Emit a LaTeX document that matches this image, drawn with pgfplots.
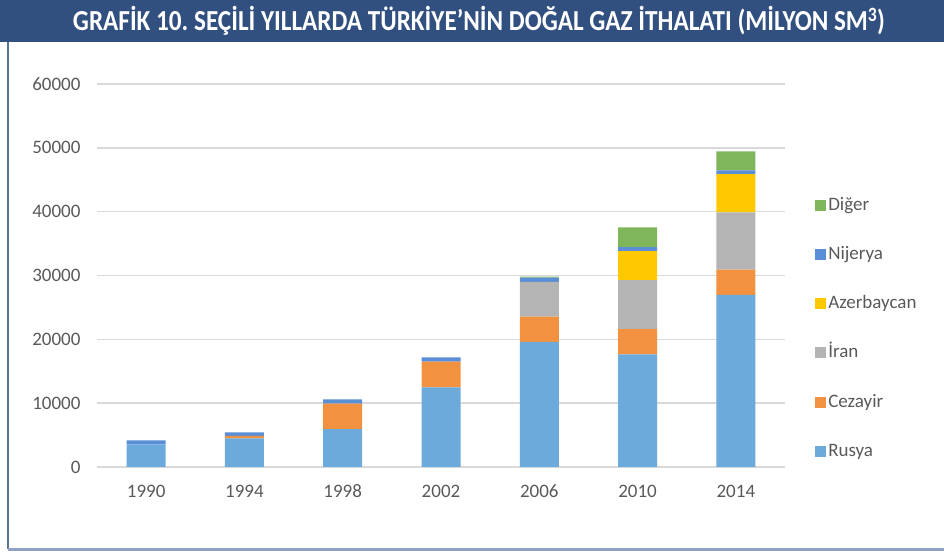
\documentclass[border=0pt]{standalone}
\usepackage{fontspec}
\setmainfont{Carlito}
\usepackage{graphicx}
\usepackage{pgfplots}
\pgfplotsset{compat=1.18}
\definecolor{titlebar}{HTML}{31507F}
\definecolor{frameline}{HTML}{8FA2C2}
\definecolor{rusya}{HTML}{6BAADB}
\definecolor{cezayir}{HTML}{F29240}
\definecolor{iran}{HTML}{B4B4B4}
\definecolor{azer}{HTML}{FFC800}
\definecolor{nijerya}{HTML}{5A8ED6}
\definecolor{diger}{HTML}{7FB55B}
\definecolor{ticktext}{HTML}{595959}
\definecolor{gridc}{HTML}{D9D9D9}

\begin{document}
\frenchspacing
\begin{tikzpicture}
\useasboundingbox (0,0) rectangle (944bp,552bp);
% frame and title bar
\fill[titlebar] (0,510bp) rectangle (944bp,552bp);
\draw[titlebar!80, line width=1.5bp] (8bp,510bp) -- (8bp,3bp);
\draw[frameline, line width=3bp] (8bp,2bp) -- (944bp,2bp);
\node[text=white, inner sep=0] at (479bp,531bp)
  {\resizebox{812bp}{\height}{\fontsize{29bp}{29bp}\selectfont\bfseries GRAFİK 10. SEÇİLİ YILLARDA TÜRKİYE’NİN DOĞAL GAZ İTHALATI (MİLYON SM\textsuperscript{3})}};

\begin{axis}[
  at={(97bp,85bp)}, anchor=south west,
  scale only axis, width=688bp, height=383bp,
  ybar stacked, bar width=39bp,
  xmin=-0.5, xmax=6.5, ymin=0, ymax=60000,
  xtick={0,...,6},
  xticklabels={1990,1994,1998,2002,2006,2010,2014},
  ytick={0,10000,...,60000},
  scaled y ticks=false,
  /pgf/number format/1000 sep={},
  /pgf/number format/assume math mode=true,
  axis line style={draw=none},
  tick style={draw=none},
  ymajorgrids, grid style={draw=gridc, line width=1.5bp},
  ticklabel style={font=\fontsize{19bp}{19bp}\selectfont, text=ticktext},
  yticklabel style={xshift=-13bp},
  xticklabel style={yshift=-14bp, text height=13bp, text depth=0pt},
  legend style={at={(1.043,0.714)}, anchor=north west, draw=none, fill=none,
    font=\fontsize{19bp}{19bp}\selectfont, text=ticktext,
    row sep=26.2bp, inner sep=0pt,
    nodes={inner sep=2.5bp, anchor=west, text height=14bp, text depth=4bp}},
  reverse legend,
  legend image code/.code={\fill[#1] (0bp,-5.5bp) rectangle (11bp,5.5bp);},
  every axis plot/.append style={draw=none},
]
\addplot[fill=rusya] coordinates {(0,3560)(1,4500)(2,5950)(3,12490)(4,19590)(5,17660)(6,26950)};
\addlegendentry{Rusya}
\addplot[fill=cezayir] coordinates {(0,0)(1,360)(2,3960)(3,4010)(4,3970)(5,3920)(6,3970)};
\addlegendentry{Cezayir}
\addplot[fill=iran] coordinates {(0,0)(1,0)(2,0)(3,0)(4,5430)(5,7680)(6,8980)};
\addlegendentry{İran}
\addplot[fill=azer] coordinates {(0,0)(1,0)(2,0)(3,0)(4,0)(5,4540)(6,6000)};
\addlegendentry{Azerbaycan}
\addplot[fill=nijerya] coordinates {(0,630)(1,580)(2,690)(3,690)(4,680)(5,630)(6,580)};
\addlegendentry{Nijerya}
\addplot[fill=diger] coordinates {(0,0)(1,0)(2,0)(3,0)(4,160)(5,3090)(6,2980)};
\addlegendentry{Diğer}
\end{axis}
\end{tikzpicture}
\end{document}
